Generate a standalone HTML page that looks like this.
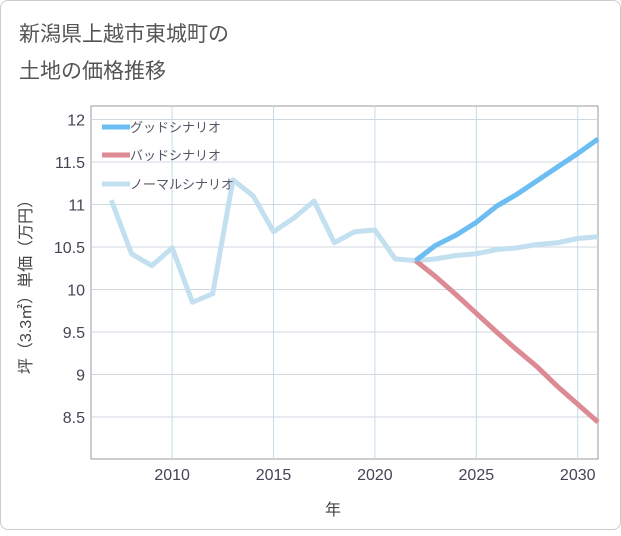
<!DOCTYPE html>
<html><head><meta charset="utf-8"><style>
body{margin:0;background:#fff;font-family:"Liberation Sans","Noto Sans CJK JP",sans-serif;}
#card{position:absolute;left:0;top:0;width:619px;height:528px;border:1px solid #ccc;border-radius:8px;background:#fff;}
</style></head><body>
<div id="card">
<svg width="621" height="530">
<text x="18" y="40" font-size="21" fill="#555">新潟県上越市東城町の</text>
<text x="18" y="77" font-size="21" fill="#555">土地の価格推移</text>
<g id="grid"></g><g id="lines"></g><g id="legend"></g>
<text x="332" y="514" font-size="16" fill="#444" text-anchor="middle">年</text>
<text transform="translate(30,282) rotate(-90)" font-size="16" fill="#444" text-anchor="middle">坪（3.3㎡）単価（万円）</text>
</svg></div>
<script>
const years=[2007,2008,2009,2010,2011,2012,2013,2014,2015,2016,2017,2018,2019,2020,2021,2022];
const hist=[11.05,10.42,10.28,10.49,9.85,9.95,11.29,11.1,10.68,10.84,11.04,10.55,10.68,10.7,10.36,10.34];
const futYears=[2022,2023,2024,2025,2026,2027,2028,2029,2030,2031];
const good=[10.34,10.52,10.64,10.79,10.98,11.12,11.28,11.44,11.6,11.77];
const bad=[10.34,10.15,9.94,9.72,9.5,9.29,9.09,8.86,8.65,8.44];
const normal=[10.34,10.36,10.4,10.42,10.47,10.49,10.53,10.55,10.6,10.62];
const yTicks=[8.5,9,9.5,10,10.5,11,11.5,12];
const xTicks=[2010,2015,2020,2025,2030];
const L=90,R=597,T=105,B=458;
const X=y=>L+(y-2006)*(R-L)/25;
const Y=v=>416-(v-8.5)*85;
const NS="http://www.w3.org/2000/svg";
function mk(p,t,a){const e=document.createElementNS(NS,t);for(const k in a)e.setAttribute(k,a[k]);p.appendChild(e);return e;}
const g=document.getElementById('grid');
const fr=mk(g,'rect',{x:L,y:T,width:R-L,height:B-T,fill:'none',stroke:'#999'});


yTicks.forEach(v=>{
 const l=mk(g,'line',{x1:L,x2:R,y1:Y(v),y2:Y(v),stroke:'#d0d8e0'});
 
 
 const t=mk(g,'text',{x:L-6,y:Y(v)+6,'font-size':16,fill:'#445','text-anchor':'end'});t.textContent=String(v);
 
 
});
xTicks.forEach(v=>{
 const l=mk(g,'line',{x1:X(v),x2:X(v),y1:T,y2:B,stroke:'#c5dcea'});
 
 
 const t=mk(g,'text',{x:X(v),y:B+21,'font-size':16,fill:'#445','text-anchor':'middle'});t.textContent=String(v);
 
 
});
const ln=document.getElementById('lines');
function path(xs,vs,c,name){const p=mk(ln,'polyline',{points:xs.map((x,i)=>X(x)+','+Y(vs[i])).join(' '),fill:'none',stroke:c,'stroke-width':5,'stroke-linejoin':'round'});
 
 }
path(years,hist,'#c2e0ef','normal-history-line');
path(futYears,normal,'#c2e0ef','normal-scenario-line');
path(futYears,bad,'#dc8a93','bad-scenario-line');
path(futYears,good,'#6bbdf2','good-scenario-line');
const lg=document.getElementById('legend');
[['グッドシナリオ','#6bbdf2',126],['バッドシナリオ','#dc8a93',154],['ノーマルシナリオ','#c2e0ef',183]].forEach(([n,c,y])=>{
 const l=mk(lg,'line',{x1:101,x2:129,y1:y,y2:y,stroke:c,'stroke-width':5});
 
 
 const t=mk(lg,'text',{x:129,y:y+5,'font-size':13,fill:'#556'});t.textContent=n;
 
 
});
</script>
</body></html>
